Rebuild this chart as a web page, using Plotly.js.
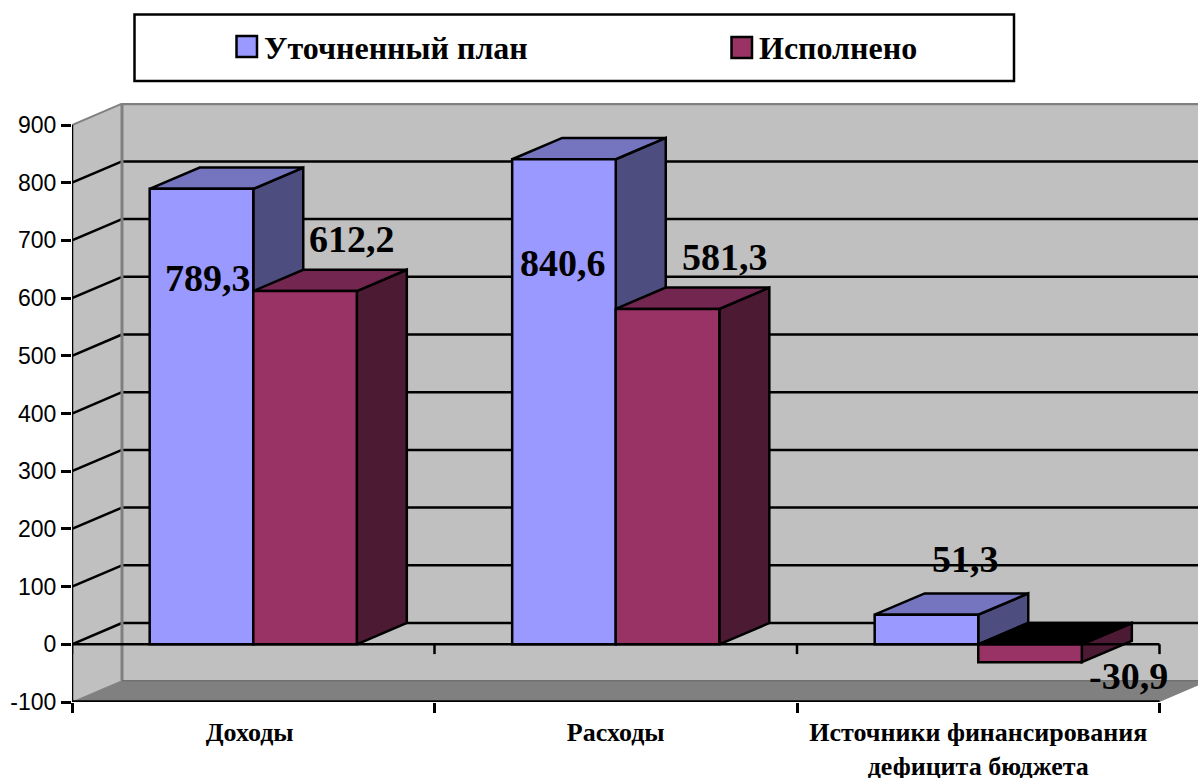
<!DOCTYPE html>
<html>
<head>
<meta charset="utf-8">
<script src="https://cdn.plot.ly/plotly-3.0.1.min.js"></script>
<style>html,body{margin:0;padding:0;background:#fff}#chart{width:1198px;height:778px}</style>
</head>
<body>
<div id="chart"></div>
<script>
const categories = ['Доходы', 'Расходы', 'Источники финансирования<br>дефицита бюджета'];
const seriesNames = ['Уточненный план', 'Исполнено'];
const plan = [789.3, 840.6, 51.3];
const done = [612.2, 581.3, -30.9];
const yTicks = [-100, 0, 100, 200, 300, 400, 500, 600, 700, 800, 900];
const yTickText = ['-100', '0', '100', '200', '300', '400', '500', '600', '700', '800', '900'];

// Layout geometry
const W = 1198, H = 778, L = 72, T = 103, B = 702;
const pxPerCat = 362.5, pxPerUnit = 0.577;
const depthX = 50 / pxPerCat, depthY = 21.3 / pxPerUnit;
const xMax = (W - L) / pxPerCat;
const yMin = -100, yMax = yMin + (B - T) / pxPerUnit;
const barW = 1 / 3.5;
const paperX = p => (p - L) / (W - L);
const paperY = p => (B - p) / (B - T);

const colors = [
  {front: '#9999FF', top: '#7474BF', side: '#4D4D80'},
  {front: '#993366', top: '#732650', side: '#4D1A33'}
];
const fmt = v => v.toFixed(1).replace('.', ',');

const traces = [];
function face(xs, ys, color) {
  traces.push({type: 'scatter', mode: 'lines', x: xs, y: ys, fill: 'toself', fillcolor: color,
    line: {color: '#000', width: 2.5}, hoverinfo: 'skip', showlegend: false, xaxis: 'x', yaxis: 'y'});
}
[plan, done].forEach((vals, s) => {
  vals.forEach((v, c) => {
    const xl = c + 0.5 - barW + s * barW, xr = xl + barW, t = Math.max(v, 0);
    face([xr, xr + depthX, xr + depthX, xr, xr], [0, depthY, v + depthY, v, 0], colors[s].side);
    face([xl, xl + depthX, xr + depthX, xr, xl], [t, t + depthY, t + depthY, t, t], v < 0 ? '#000' : colors[s].top);
  });
});
[plan, done].forEach((vals, s) => {
  traces.push({type: 'bar', name: seriesNames[s], x: [0.5, 1.5, 2.5], y: vals,
    marker: {color: colors[s].front, line: {color: '#000', width: 2.5}},
    xaxis: 'x2', yaxis: 'y2', showlegend: false,
    hovertemplate: seriesNames[s] + ': %{y}<extra></extra>'});
});

const shapes = [];
const poly = (pts, fill) => shapes.push({type: 'path', xref: 'x', yref: 'y', layer: 'below',
  path: 'M' + pts.map(p => p.join(',')).join('L') + 'Z', fillcolor: fill, line: {color: 'rgba(0,0,0,0)', width: 0}});
const seg = (x0, y0, x1, y1, color, width, layer) => shapes.push({type: 'line', xref: 'x', yref: 'y', layer: layer || 'below',
  x0, y0, x1, y1, line: {color, width}});

// walls and floor
poly([[depthX, yMin + depthY], [depthX, 900 + depthY], [xMax + 1, 900 + depthY], [xMax + 1, yMin + depthY]], '#C0C0C0');
poly([[0, yMin], [0, 900], [depthX, 900 + depthY], [depthX, yMin + depthY]], '#C0C0C0');
poly([[0, yMin], [3, yMin], [3 + depthX, yMin + depthY], [depthX, yMin + depthY]], '#808080');
// gridlines
yTicks.forEach(v => {
  if (v === 900 || v === yMin) return;
  seg(depthX, v + depthY, xMax + 1, v + depthY, '#000', 2.5);
  seg(0, v, depthX, v + depthY, '#000', 2.5);
});
// wall borders
seg(depthX, yMin + depthY, depthX, 900 + depthY, '#808080', 3);
seg(depthX, 900 + depthY, xMax + 1, 900 + depthY, '#808080', 3);
seg(0, 900, depthX, 900 + depthY, '#808080', 2);
seg(0, yMin, depthX, yMin + depthY, '#808080', 1);
seg(depthX, yMin + depthY, 3 + depthX, yMin + depthY, '#606060', 1);
// axes
seg(0, yMin, 0, 900, '#000', 2.5, 'above');
seg(0, 0, 3, 0, '#000', 2.5, 'above');
seg(0, yMin, 3, yMin, '#000', 3.5, 'above');
[0, 1, 2, 3].forEach(c => seg(c, 0, c, -17, '#000', 2.5, 'above'));

// legend box
const paperRect = (x0, y0, x1, y1, fill, w) => shapes.push({type: 'rect', xref: 'paper', yref: 'paper', layer: 'above',
  x0: paperX(x0), x1: paperX(x1), y0: paperY(y0), y1: paperY(y1), fillcolor: fill, line: {color: '#000', width: w}});
paperRect(134.5, 14.5, 1014, 81, '#fff', 2.5);
paperRect(236.5, 36, 257, 57, colors[0].front, 2.5);
paperRect(731.5, 37, 752, 58, colors[1].front, 2.5);

const serif = 'Liberation Serif, Times New Roman, serif';
const annotations = [];
const label = (text, px, py, size, anchor) => annotations.push({text: '<b>' + text + '</b>', xref: 'paper', yref: 'paper',
  x: paperX(px), y: paperY(py), showarrow: false, xanchor: anchor || 'center', yanchor: 'middle',
  font: {family: serif, size, color: '#000'}, borderpad: 0});

const labelAnchors = [[208, 278], [352, 239], [563, 263], [725, 257], [965.5, 559], [1128.5, 676]];
const labelValues = [plan[0], done[0], plan[1], done[1], plan[2], done[2]];
labelValues.forEach((v, i) => label(fmt(v), labelAnchors[i][0], labelAnchors[i][1], 38));
label(seriesNames[0], 263, 48, 32, 'left');
label(seriesNames[1], 758, 48, 32, 'left');

const layout = {
  width: W, height: H, autosize: false,
  margin: {l: L, r: 0, t: T, b: H - B, pad: 0},
  paper_bgcolor: '#fff', plot_bgcolor: 'rgba(0,0,0,0)',
  barmode: 'group', bargap: 1 - 2 * barW, bargroupgap: 0,
  showlegend: false, hovermode: 'closest',
  xaxis: {range: [0, xMax], tickmode: 'array', tickvals: [0.49, 1.5, 2.5], ticktext: categories,
    ticks: '', ticklen: 0, showgrid: false, zeroline: false, showline: false,
    tickfont: {family: serif, size: 26, color: '#000', weight: 'bold'},
    minor: {tickmode: 'array', tickvals: [0, 1, 2, 3], ticks: 'outside', ticklen: 10, tickwidth: 2.5, tickcolor: '#000', showgrid: false},
    ticklabelstandoff: 12, fixedrange: true},
  yaxis: {range: [yMin, yMax], tickmode: 'array', tickvals: yTicks, ticktext: yTickText, ticks: 'outside', ticklen: 10, tickwidth: 2.5,
    tickcolor: '#000', showgrid: false, zeroline: false, showline: false,
    tickfont: {family: 'Liberation Sans, Arial, sans-serif', size: 23, color: '#000'}, fixedrange: true},
  xaxis2: {overlaying: 'x', range: [0, xMax], visible: false, fixedrange: true, anchor: 'y2'},
  yaxis2: {overlaying: 'y', range: [yMin, yMax], visible: false, fixedrange: true, anchor: 'x2'},
  shapes, annotations
};
Plotly.newPlot('chart', traces, layout, {displayModeBar: false, responsive: false});
</script>
</body>
</html>
